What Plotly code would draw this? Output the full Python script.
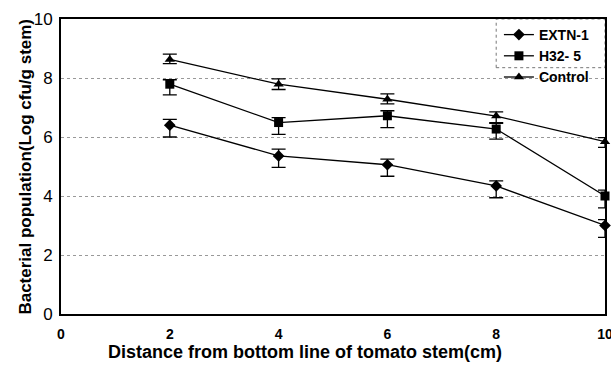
import plotly.graph_objects as go

distance = [2, 4, 6, 8, 10]
series_names = ["EXTN-1", "H32- 5", "Control"]
extn = [6.40, 5.36, 5.06, 4.34, 3.00]
extn_up = [0.20, 0.23, 0.19, 0.17, 0.20]
extn_down = [0.40, 0.39, 0.39, 0.40, 0.40]
h32 = [7.79, 6.49, 6.72, 6.27, 4.00]
h32_up = [0.15, 0.17, 0.17, 0.19, 0.20]
h32_down = [0.36, 0.40, 0.40, 0.34, 0.40]
control = [8.63, 7.79, 7.28, 6.71, 5.84]
control_up = [0.18, 0.18, 0.18, 0.14, 0.14]
control_down = [0.14, 0.18, 0.16, 0.22, 0.19]
x_ticks = [0, 2, 4, 6, 8, 10]
y_ticks = [0, 2, 4, 6, 8, 10]
x_title = "Distance from bottom line of tomato stem(cm)"
y_title = "Bacterial population(Log cfu/g stem)"

symbols = ["diamond", "square", "triangle-up"]
sizes = [9, 9, 9]
data = [(extn, extn_up, extn_down), (h32, h32_up, h32_down), (control, control_up, control_down)]

fig = go.Figure()
for name, (vals, up, down), sym, sz in zip(series_names, data, symbols, sizes):
    fig.add_trace(go.Scatter(
        x=distance, y=vals, name=name, mode="lines+markers",
        line=dict(color="black", width=1.3),
        marker=dict(symbol=sym, size=sz, color="black"),
        error_y=dict(type="data", symmetric=False, array=up, arrayminus=down,
                     color="black", thickness=1.3, width=7),
        cliponaxis=False,
    ))

fig.update_layout(
    width=611, height=365,
    margin=dict(l=61, r=6, t=19, b=51),
    paper_bgcolor="white", plot_bgcolor="white",
    font=dict(family="Liberation Sans, Arial, sans-serif", color="black"),
    showlegend=True,
    legend=dict(
        x=0.805, y=1.0, xanchor="left", yanchor="top",
        bgcolor="rgba(0,0,0,0)", borderwidth=0,
        font=dict(size=14, family="Liberation Sans, Arial, sans-serif", weight="bold"),
        tracegroupgap=0, itemwidth=30,
    ),
    xaxis=dict(
        range=[0, 10], tickvals=x_ticks, ticktext=[str(v) for v in x_ticks],
        showgrid=False, zeroline=False, automargin=False,
        showline=True, linecolor="black", linewidth=2, mirror=True,
        ticks="", ticklabelstandoff=6, ticklabeloverflow="allow",
        tickfont=dict(size=14, weight="bold"),
    ),
    yaxis=dict(
        range=[0, 10], tickvals=y_ticks, ticktext=[str(v) for v in y_ticks],
        showgrid=True, gridcolor="#999999", griddash="dot", gridwidth=1,
        zeroline=False, automargin=False,
        showline=True, linecolor="black", linewidth=2, mirror=True,
        ticks="", ticklabelstandoff=3,
        tickfont=dict(size=17),
    ),
)

fig.add_annotation(text=x_title, xref="paper", yref="paper",
                   x=0.449, y=-0.13, xanchor="center", yanchor="middle",
                   showarrow=False, font=dict(size=18, weight="bold"))
fig.add_annotation(text=y_title, xref="paper", yref="paper",
                   x=-0.066, y=0.5, xanchor="center", yanchor="middle", textangle=-90,
                   showarrow=False, font=dict(size=17, weight="bold"))

fig.add_shape(type="rect", xref="paper", yref="paper",
              x0=0.80, x1=1.0, y0=0.835, y1=1.0,
              line=dict(color="#777777", width=1, dash="dot"), layer="below")

fig.write_html("out.html", config={"displayModeBar": False},
               post_script="document.body.style.margin='0';document.body.style.overflow='hidden';")
